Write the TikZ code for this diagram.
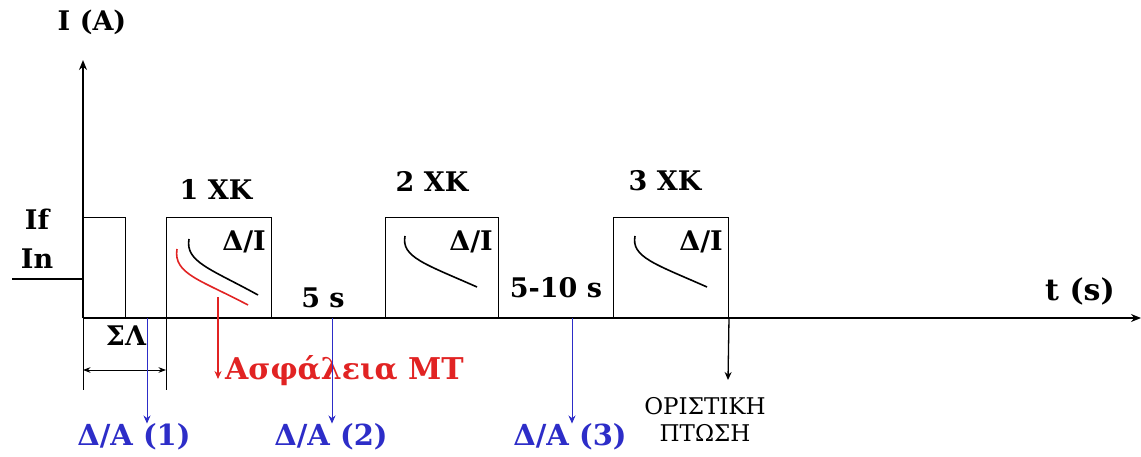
\documentclass[tikz,border=0pt]{standalone}
\usepackage{fontspec}
\setmainfont{DejaVu Serif}
\usetikzlibrary{positioning,arrows.meta}
\definecolor{dablue}{RGB}{45,45,200}
\definecolor{mtred}{RGB}{225,35,35}

\tikzset{
  axis/.style={line width=2.6pt, -{Stealth[length=10pt,width=8pt]}},
  xkbox/.style={draw, line width=1pt, minimum height=100pt, anchor=south west, inner sep=0pt},
  lbl/.style={inner sep=0pt, font=\bfseries\fontsize{27}{30}\selectfont},
  dalbl/.style={lbl, text=dablue, font=\bfseries\fontsize{29}{32}\selectfont},
  daarrow/.style={dablue, line width=1pt, -{Stealth[length=8pt,width=7pt]}},
  curve/.style={line width=1.6pt}
}

\begin{document}
\begin{tikzpicture}[x=1pt, y=-1pt, >=Stealth]
\useasboundingbox (0,0) rectangle (1141,457);

% axes
\coordinate (o) at (83,318);
\coordinate (y_end) at (83,60);
\coordinate (x_end) at (1141,318);
\coordinate (in_left) at (12,279);
\coordinate (in_right) at (83,279);
\draw[axis] (o) -- (y_end);
\draw[axis] (o) -- (x_end);
\draw[line width=1.2pt] (in_left) -- (in_right);
\node[lbl] (i_lbl) at (92,22) {I (A)};
\node[lbl, font=\bfseries\fontsize{30}{32}\selectfont] (t_lbl) at (1080,291) {t (s)};
\node[lbl] (if_lbl) at (37,219) {If};
\node[lbl] (in_lbl) at (37,259) {In};

% first pulse
\node[xkbox, minimum width=42pt] (pulse) at (o) {};

% reclosing boxes
\node[xkbox, minimum width=105pt] (xk_1) at (166,318) {};
\node[xkbox, minimum width=113pt] (xk_2) at (385,318) {};
\node[xkbox, minimum width=115pt] (xk_3) at (613,318) {};
\node[lbl] (xk_1_lbl) at (216,189) {1 XK};
\node[lbl] (xk_2_lbl) at (432,181) {2 XK};
\node[lbl] (xk_3_lbl) at (665,181) {3 XK};
\foreach \b in {xk_1,xk_2,xk_3}
  \node[lbl, anchor=north east] (\b_di) at ([xshift=-6pt,yshift=-14pt]\b.north east) {Δ/I};

% decay curves
\draw[curve] ([shift={(23,22)}]xk_1.north west) .. controls ([shift={(19,45)}]xk_1.north west) and ([shift={(45,52)}]xk_1.north west) .. ([shift={(92,78)}]xk_1.north west);
\draw[curve, mtred] ([shift={(11,32)}]xk_1.north west) .. controls ([shift={(7,57)}]xk_1.north west) and ([shift={(35,63)}]xk_1.north west) .. ([shift={(82,88)}]xk_1.north west);
\draw[curve] ([shift={(20,19)}]xk_2.north west) .. controls ([shift={(16,40)}]xk_2.north west) and ([shift={(40,47)}]xk_2.north west) .. ([shift={(92,70)}]xk_2.north west);
\draw[curve] ([shift={(22,19)}]xk_3.north west) .. controls ([shift={(18,40)}]xk_3.north west) and ([shift={(42,47)}]xk_3.north west) .. ([shift={(94,70)}]xk_3.north west);

% dead times
\node[lbl] (t5_lbl) at (323,298) {5 s};
\node[lbl] (t510_lbl) at (556,288) {5-10 s};

% fuse arrow
\coordinate (fuse_top) at (218,297);
\coordinate (fuse_end) at (218,379);
\draw[mtred, line width=1.3pt, -{Stealth[length=8pt,width=7pt]}] (fuse_top) -- (fuse_end);
\node[lbl, text=mtred, anchor=base west, font=\bfseries\fontsize{30}{32}\selectfont] (fuse_lbl) at (225,379) {Ασφάλεια ΜΤ};

% SL dimension
\coordinate (sl_a) at (83,390);
\coordinate (sl_b) at (166,390);
\draw[line width=1pt] (o) -- (sl_a);
\draw[line width=1pt] (xk_1.south west) -- (sl_b);
\draw[line width=1pt, <->] (83,370) -- (166,370);
\node[lbl] (sl_lbl) at (126,336) {ΣΛ};

% breaker operations
\coordinate (da_1) at (147,318);
\coordinate (da_2) at (332,318);
\coordinate (da_3) at (572,318);
\node[dalbl] (da_1_lbl) at (134,437) {Δ/A (1)};
\node[dalbl] (da_2_lbl) at (331,437) {Δ/A (2)};
\node[dalbl] (da_3_lbl) at (570,437) {Δ/A (3)};
\draw[daarrow] (da_1) -- (da_1 |- da_1_lbl.north);
\draw[daarrow] (da_2) -- (da_2 |- da_2_lbl.north);
\draw[daarrow] (da_3) -- (da_3 |- da_3_lbl.north);

% lockout
\coordinate (lock_end) at (728,380);
\draw[line width=1.3pt, -{Stealth[length=8pt,width=7pt]}] (xk_3.south east) -- (lock_end);
\node[inner sep=0pt, font=\fontsize{23}{27}\selectfont, align=center] (lock_lbl) at (705,419) {ΟΡΙΣΤΙΚΗ\\ΠΤΩΣΗ};
\end{tikzpicture}
\end{document}
